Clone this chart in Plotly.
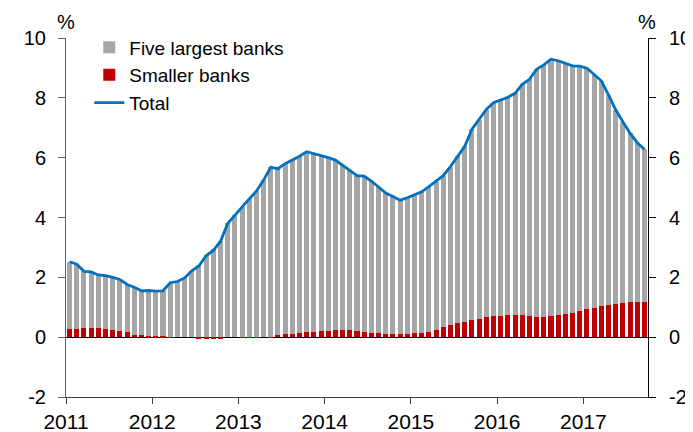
import plotly.graph_objects as go

# monthly data, Jan 2011 - Sep 2017 (per cent)
years = ["2011", "2012", "2013", "2014", "2015", "2016", "2017"]
y_ticks = [-2, 0, 2, 4, 6, 8, 10]
y_labels = ["-2", "0", "2", "4", "6", "8", "10"]

total = [
    2.52, 2.44, 2.20, 2.18, 2.08, 2.06, 2.00, 1.93, 1.76, 1.67, 1.55, 1.56,
    1.54, 1.55, 1.82, 1.86, 1.98, 2.22, 2.38, 2.72, 2.90, 3.20, 3.80, 4.08,
    4.34, 4.62, 4.88, 5.25, 5.68, 5.63, 5.80, 5.92, 6.05, 6.20, 6.14, 6.06,
    6.00, 5.92, 5.75, 5.58, 5.40, 5.38, 5.22, 5.02, 4.82, 4.70, 4.58, 4.66,
    4.75, 4.86, 5.03, 5.20, 5.40, 5.70, 6.05, 6.38, 6.95, 7.26, 7.61, 7.84,
    7.92, 8.02, 8.15, 8.45, 8.62, 8.95, 9.10, 9.29, 9.24, 9.15, 9.07, 9.06,
    8.99, 8.78, 8.57, 8.10, 7.60, 7.20, 6.82, 6.50, 6.28,
]

smaller = [
    0.28, 0.28, 0.31, 0.31, 0.31, 0.28, 0.24, 0.22, 0.18, 0.08, 0.07, 0.03,
    0.03, 0.03, 0.01, 0.00, 0.00, 0.00, -0.03, -0.04, -0.04, -0.03, 0.00, 0.00,
    -0.01, -0.01, -0.01, 0.00, 0.01, 0.08, 0.10, 0.12, 0.13, 0.17, 0.17, 0.20,
    0.20, 0.23, 0.23, 0.23, 0.21, 0.17, 0.15, 0.15, 0.11, 0.11, 0.12, 0.12,
    0.13, 0.13, 0.17, 0.23, 0.33, 0.41, 0.47, 0.50, 0.58, 0.61, 0.67, 0.70,
    0.72, 0.75, 0.75, 0.75, 0.70, 0.68, 0.68, 0.70, 0.75, 0.78, 0.81, 0.89,
    0.94, 0.98, 1.04, 1.07, 1.10, 1.14, 1.16, 1.19, 1.17,
]

# grey part of the stack = total minus smaller banks
five_largest = [round(t - s, 2) for t, s in zip(total, smaller)]

months = [i + 0.5 for i in range(len(total))]
year_ticks = [12 * i for i in range(len(years))]

FONT = "Arial, 'Liberation Sans', sans-serif"

fig = go.Figure()

fig.add_trace(go.Bar(
    x=months, y=smaller, name="Smaller banks", legendrank=2,
    marker=dict(color="#C00000", line=dict(width=0)), width=0.7,
))
fig.add_trace(go.Bar(
    x=months, y=five_largest, name="Five largest banks", legendrank=1,
    marker=dict(color="#A6A6A6", line=dict(width=0)), width=0.7,
))
fig.add_trace(go.Scatter(
    x=months, y=total, name="Total", mode="lines", yaxis="y2", legendrank=3,
    line=dict(color="#0070C0", width=2.8),
))

# the page body adds an 8px offset, so the figure is 8px smaller
fig.update_layout(
    width=685, height=424,
    margin=dict(l=58, r=45, t=30, b=35),
    paper_bgcolor="white", plot_bgcolor="white",
    barmode="relative", bargap=0,
    font=dict(family=FONT, size=20, color="black"),
    legend=dict(
        x=0.04, y=1.027, xanchor="left", yanchor="top",
        traceorder="normal", bgcolor="rgba(0,0,0,0)",
        font=dict(size=19), itemwidth=30, tracegroupgap=0,
    ),
    xaxis=dict(
        range=[0, 81], tickvals=year_ticks, ticktext=years,
        ticks="outside", ticklen=6, tickcolor="#404040",
        showline=True, linecolor="#404040", linewidth=1,
        showgrid=False, zeroline=False, tickfont=dict(size=21),
        automargin=False,
    ),
    yaxis=dict(
        range=[-2, 10], tickvals=y_ticks, ticktext=y_labels,
        ticks="outside", ticklen=7, ticklabelstandoff=8,
        tickcolor="#606060", showline=True, linecolor="#606060",
        showgrid=False, zeroline=True, zerolinecolor="black",
        zerolinewidth=1, tickfont=dict(size=20), automargin=False,
    ),
    yaxis2=dict(
        range=[-2, 10], tickvals=y_ticks, ticktext=y_labels,
        overlaying="y", side="right",
        ticks="outside", ticklen=7, ticklabelstandoff=9, tickcolor="black",
        showline=True, linecolor="black", showgrid=False,
        zeroline=False, tickfont=dict(size=20), automargin=False,
    ),
)

fig.add_annotation(text="%", x=0, y=1.0, xref="paper", yref="paper",
                   xanchor="center", yanchor="bottom", showarrow=False,
                   yshift=3, font=dict(size=20))
fig.add_annotation(text="%", x=1, y=1.0, xref="paper", yref="paper",
                   xanchor="center", yanchor="bottom", showarrow=False,
                   xshift=-1, yshift=3, font=dict(size=20))

fig.write_html("out.html")
